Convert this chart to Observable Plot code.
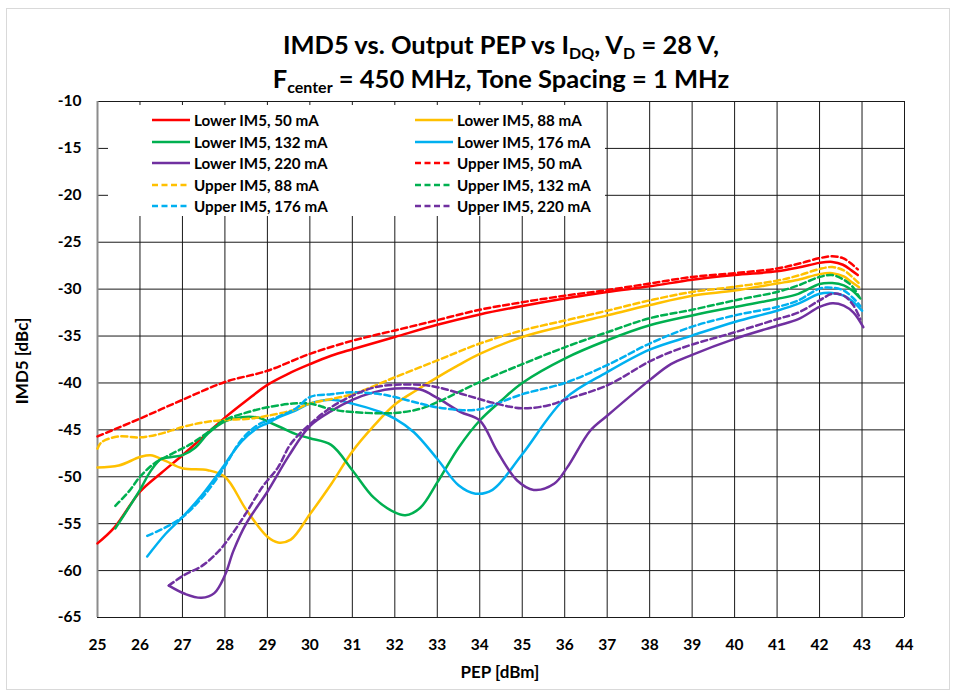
<!DOCTYPE html>
<html>
<head>
<meta charset="utf-8">
<script src="https://cdn.jsdelivr.net/npm/d3@7"></script>
<script src="https://cdn.jsdelivr.net/npm/@observablehq/plot@0.6"></script>
<style>
  html, body { margin: 0; padding: 0; background: #fff; }
  #wrap { position: relative; width: 956px; height: 695px; font-family: Lato, "Open Sans", sans-serif; font-weight: bold; color: #000; }
  #border { position: absolute; left: 6px; top: 8px; width: 944px; height: 682px; border: 1px solid #d9d9d9; box-sizing: border-box; }
  #title { position: absolute; left: 0; width: 1002px; top: 27px; text-align: center; font-size: 25.5px; line-height: 34px; }
  #title sub { font-size: 16px; vertical-align: -5px; line-height: 0; }
  #legend { position: absolute; left: 108px; top: 105px; width: 497px; height: 111px; background: #fff; }
  .entry { position: absolute; height: 20px; display: flex; align-items: center; font-size: 15.2px; white-space: nowrap; }
  .entry svg { margin-right: 4px; }
  #xlabel { position: absolute; left: 400px; width: 200px; top: 661px; text-align: center; font-size: 17px; }
  #ylabel { position: absolute; left: 21px; top: 361px; transform: translate(-50%, -50%) rotate(-90deg); font-size: 17px; white-space: nowrap; }
  svg { overflow: visible; }
</style>
</head>
<body>
<div id="wrap">
  <div id="border"></div>
  <div id="chart" style="position:absolute;left:0;top:0;"></div>
  <div id="title">IMD5 vs. Output PEP vs I<sub>DQ</sub>, V<sub>D</sub> = 28 V,<br>F<sub>center</sub> = 450 MHz, Tone Spacing = 1 MHz</div>
  <div id="legend"></div>
  <div id="xlabel">PEP [dBm]</div>
  <div id="ylabel">IMD5 [dBc]</div>
</div>
<script>
// ---- tick labels ----
const xTicks = d3.range(25, 45, 1);
const yTicks = d3.range(-65, -9, 5);

// ---- series values [PEP dBm, IMD5 dBc] ----
const lower50 = [[25,-57.1],[25.4,-55.4],[26,-51.6],[26.5,-49.6],[27,-47.7],[27.5,-45.7],[28,-43.7],[28.5,-41.9],[29,-40.2],[29.5,-39.0],[30,-38.0],[30.5,-37.1],[31,-36.4],[32,-35.1],[33,-33.8],[34,-32.7],[35,-31.8],[36,-31.0],[37,-30.3],[38,-29.7],[39,-29.0],[40,-28.5],[41,-28.1],[41.5,-27.7],[42,-27.2],[42.3,-27.1],[42.55,-27.4],[42.75,-28.0],[42.9,-28.5]];
const lower88 = [[25,-49.0],[25.5,-48.8],[26,-47.9],[26.25,-47.7],[26.6,-48.3],[27,-49.1],[27.6,-49.3],[28,-50.0],[28.5,-53.5],[29,-56.4],[29.25,-57.0],[29.55,-56.7],[30,-54.0],[30.5,-50.8],[31,-47.3],[31.5,-44.6],[32,-42.3],[32.5,-40.8],[33,-39.4],[33.5,-38.1],[34,-36.9],[35,-35.1],[36,-33.9],[37,-32.8],[38,-31.7],[39,-30.7],[40,-30.15],[41,-29.4],[41.5,-29.0],[42,-28.4],[42.3,-28.3],[42.57,-28.65],[42.77,-29.3],[42.93,-29.8]];
const lower132 = [[25.42,-55.5],[25.75,-53.2],[26,-51.4],[26.25,-49.4],[26.5,-48.1],[26.75,-47.9],[27,-47.7],[27.3,-46.9],[27.6,-45.4],[28,-44.1],[28.4,-43.65],[28.8,-43.7],[29,-44.1],[29.35,-44.8],[29.7,-45.5],[30,-45.9],[30.5,-46.6],[31,-49.3],[31.5,-52.2],[32,-53.8],[32.25,-54.1],[32.6,-53.3],[33,-50.6],[33.5,-46.9],[34,-44.0],[34.5,-41.9],[35,-40.0],[36,-37.4],[37,-35.45],[38,-33.85],[39,-32.8],[40,-31.9],[41,-31.05],[41.5,-30.5],[42,-29.45],[42.3,-29.35],[42.57,-29.6],[42.77,-30.15],[42.96,-31.0]];
const lower176 = [[26.17,-58.5],[26.6,-56.1],[27,-54.3],[27.45,-52.0],[27.9,-49.3],[28,-48.65],[28.4,-46.2],[28.8,-44.7],[29,-44.3],[29.3,-43.6],[29.66,-42.95],[30,-42.2],[30.5,-41.8],[31,-42.2],[31.66,-43.1],[32,-43.8],[32.45,-45.25],[33,-48.1],[33.5,-50.9],[33.9,-51.8],[34.3,-51.4],[35,-47.6],[36,-41.7],[37,-38.85],[38,-36.45],[39,-34.95],[40,-33.5],[41,-32.3],[41.5,-31.55],[42,-30.5],[42.3,-30.4],[42.57,-30.7],[42.8,-31.4],[43,-32.3]];
const lower220 = [[26.68,-61.6],[27.07,-62.5],[27.45,-62.9],[27.75,-62.4],[28,-60.5],[28.2,-57.9],[28.5,-55.0],[29,-51.6],[29.5,-47.8],[30,-44.6],[30.5,-43.0],[31,-41.8],[31.5,-41.0],[32,-40.6],[32.6,-40.7],[33,-41.6],[33.55,-43.1],[34,-44.0],[34.4,-47.2],[34.88,-50.4],[35.27,-51.4],[35.75,-50.75],[36.06,-49.0],[36.6,-45.1],[37,-43.5],[38,-39.7],[38.5,-38.0],[39,-37.0],[40,-35.3],[41,-33.9],[41.5,-33.2],[42,-31.9],[42.3,-31.5],[42.57,-31.75],[42.8,-32.5],[43.03,-34.05]];
const upper50 = [[25,-45.7],[26,-43.8],[27,-41.8],[28,-39.9],[29,-38.7],[30,-36.9],[31,-35.5],[32,-34.4],[33,-33.3],[34,-32.2],[35,-31.4],[36,-30.7],[37,-30.1],[38,-29.4],[39,-28.7],[40,-28.3],[41,-27.8],[41.5,-27.3],[42,-26.7],[42.3,-26.5],[42.55,-26.7],[42.75,-27.3],[42.9,-27.9]];
const upper88 = [[25,-47.0],[25.1,-46.3],[25.5,-45.7],[26,-45.8],[26.5,-45.4],[27,-44.7],[27.5,-44.2],[28,-43.95],[28.6,-43.8],[29,-43.5],[29.6,-42.9],[30,-42.2],[31,-41.2],[32,-39.4],[33,-37.6],[34,-35.8],[35,-34.4],[36,-33.35],[37,-32.3],[38,-31.2],[39,-30.3],[40,-29.75],[41,-29.1],[41.5,-28.55],[42,-27.85],[42.3,-27.65],[42.57,-28.0],[42.77,-28.7],[42.93,-29.4]];
const upper132 = [[25.42,-53.1],[25.75,-51.5],[26,-50.0],[26.33,-48.6],[26.75,-47.55],[27.2,-46.5],[27.6,-45.25],[28,-43.95],[28.55,-43.1],[29,-42.6],[29.6,-42.2],[30,-42.2],[30.5,-42.8],[31,-43.1],[32,-43.2],[32.6,-42.75],[33,-42.05],[34,-39.9],[35,-38.0],[36,-36.2],[37,-34.6],[38,-33.1],[39,-32.2],[40,-31.2],[41,-30.3],[41.5,-29.6],[42,-28.7],[42.3,-28.5],[42.57,-29.0],[42.77,-29.7],[42.93,-30.8]];
const upper176 = [[26.17,-56.3],[26.6,-55.4],[27,-54.3],[27.45,-52.3],[27.9,-49.6],[28.4,-46.0],[28.8,-44.4],[29.03,-44.0],[29.66,-42.75],[30,-41.5],[30.5,-41.2],[31,-41.0],[31.66,-41.2],[32,-41.5],[32.6,-42.2],[33,-42.6],[33.6,-42.9],[34,-42.8],[35,-41.2],[36,-40.0],[37,-38.1],[38,-35.8],[39,-34.0],[40,-32.8],[41,-31.9],[41.5,-31.2],[42,-29.95],[42.3,-29.85],[42.57,-30.15],[42.8,-31.0],[42.96,-31.8]];
const upper220 = [[26.68,-61.6],[27.03,-60.5],[27.46,-59.5],[27.86,-57.9],[28.17,-56.1],[28.48,-54.0],[28.88,-51.1],[29.25,-49.0],[29.55,-46.5],[30,-44.4],[30.5,-42.6],[31,-41.35],[31.5,-40.5],[32,-40.2],[32.6,-40.2],[33,-40.45],[33.6,-41.2],[34.3,-42.1],[35,-42.7],[35.6,-42.4],[36,-41.8],[37,-40.25],[38,-37.7],[38.5,-36.7],[39,-35.9],[40,-34.6],[41,-33.2],[41.5,-32.5],[42,-31.2],[42.3,-30.5],[42.57,-30.7],[42.8,-31.75],[42.96,-33.2]];

// ---- series names / colours (drawing order = legend order) ----
const seriesNames = ["Lower IM5, 50 mA","Lower IM5, 88 mA","Lower IM5, 132 mA","Lower IM5, 176 mA","Lower IM5, 220 mA","Upper IM5, 50 mA","Upper IM5, 88 mA","Upper IM5, 132 mA","Upper IM5, 176 mA","Upper IM5, 220 mA"];
const seriesData = [lower50, lower88, lower132, lower176, lower220, upper50, upper88, upper132, upper176, upper220];
const seriesColors = ["#FF0000","#FFC000","#00B050","#00B0F0","#7030A0","#FF0000","#FFC000","#00B050","#00B0F0","#7030A0"];
const seriesDashed = [false,false,false,false,false,true,true,true,true,true];

const DASH = "6,3.5";

const lineMarks = seriesData.map((pts, i) =>
  Plot.line(pts, {
    x: d => d[0], y: d => d[1],
    stroke: seriesColors[i], strokeWidth: 2.5,
    strokeDasharray: seriesDashed[i] ? DASH : null,
    curve: "catmull-rom"
  })
);

const chart = Plot.plot({
  width: 956, height: 695,
  marginLeft: 97, marginRight: 52, marginTop: 101, marginBottom: 78,
  x: { type: "linear", domain: [25, 44] },
  y: { type: "linear", domain: [-65, -10] },
  style: { fontFamily: "Lato, 'Open Sans', sans-serif", fontWeight: "bold", fontSize: "15.5px", color: "#000", background: "transparent", overflow: "visible" },
  marks: [
    Plot.gridX(xTicks, { stroke: "#1a1a1a", strokeOpacity: 1, strokeWidth: 1 }),
    Plot.gridY(yTicks, { stroke: "#1a1a1a", strokeOpacity: 1, strokeWidth: 1 }),
    Plot.ruleX([25], { stroke: "#8c8c8c", strokeWidth: 2 }),
    Plot.ruleY([-65], { stroke: "#1a1a1a", strokeWidth: 1 }),
    Plot.axisX(xTicks, { tickSize: 0, tickPadding: 21, label: null, tickFormat: d => String(d), fontSize: 15.5 }),
    Plot.axisY(yTicks, { tickSize: 0, tickPadding: 16, label: null, tickFormat: d => String(d), fontSize: 15.5 }),
    ...lineMarks
  ]
});
document.getElementById("chart").appendChild(chart);

// ---- legend ----
const legend = document.getElementById("legend");
seriesNames.forEach((name, i) => {
  const col = i % 2, row = Math.floor(i / 2);
  const e = document.createElement("div");
  e.className = "entry";
  e.style.left = (col ? 307 : 44) + "px";
  e.style.top = (5 + row * 21.5) + "px";
  const ns = "http://www.w3.org/2000/svg";
  const s = document.createElementNS(ns, "svg");
  s.setAttribute("width", 38); s.setAttribute("height", 10);
  const l = document.createElementNS(ns, "line");
  l.setAttribute("x1", 0); l.setAttribute("x2", 38); l.setAttribute("y1", 5); l.setAttribute("y2", 5);
  l.setAttribute("stroke", seriesColors[i]); l.setAttribute("stroke-width", 2.5);
  if (seriesDashed[i]) l.setAttribute("stroke-dasharray", DASH);
  s.appendChild(l);
  e.appendChild(s);
  const t = document.createElement("span");
  t.textContent = name;
  e.appendChild(t);
  legend.appendChild(e);
});
</script>
</body>
</html>
